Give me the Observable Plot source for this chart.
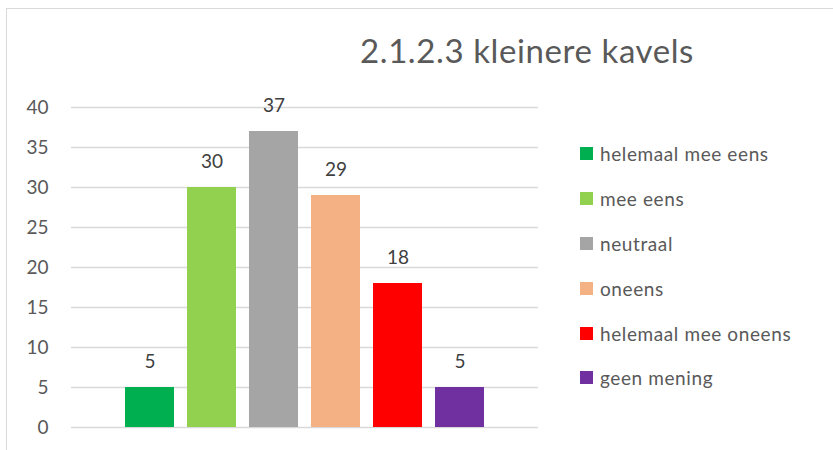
<!DOCTYPE html>
<html>
<head>
<meta charset="utf-8">
<script src="https://cdn.jsdelivr.net/npm/d3@7"></script>
<script src="https://cdn.jsdelivr.net/npm/@observablehq/plot@0.6"></script>
<style>
  html, body { margin: 0; padding: 0; background: #fff; overflow: hidden; }
  #wrap { position: relative; width: 833px; height: 450px; overflow: hidden; font-family: Lato, "Open Sans", sans-serif; }
  #frame { position: absolute; left: 6px; top: 8px; width: 900px; height: 500px; border: 1px solid #d9d9d9; box-sizing: border-box; }
  #title { position: absolute; left: 527px; top: 60px; transform: translate(-50%, -80%); font-size: 33px; line-height: 1; color: #595959; white-space: nowrap; font-weight: 400; letter-spacing: 0.6px; }
  #chart { position: absolute; left: 0; top: 0; }
  #legend { position: absolute; left: 580px; top: 131.6px; }
  #legend, #legend div, #legend span { font-family: Lato, "Open Sans", sans-serif !important; font-size: 19px !important; color: #595959 !important; letter-spacing: 0.6px; }
  #legend > div { margin: 0 !important; }
  #legend .lg-swatch { height: 44.8px !important; padding: 0 !important; margin: 0 !important; display: flex !important; align-items: center !important; }
  #legend .lg-swatch > svg { margin-right: 7px !important; flex-shrink: 0; }
</style>
</head>
<body>
<div id="wrap">
  <div id="frame"></div>
  <div id="chart"></div>
  <div id="title"></div>
  <div id="legend"></div>
</div>
<script>
const titleText = "2.1.2.3 kleinere kavels";
const categories = ["helemaal mee eens", "mee eens", "neutraal", "oneens", "helemaal mee oneens", "geen mening"];
const values = [5, 30, 37, 29, 18, 5];
const colors = ["#00B050", "#92D050", "#A5A5A5", "#F4B183", "#FF0000", "#7030A0"];
const yTicks = [0, 5, 10, 15, 20, 25, 30, 35, 40];

const data = categories.map((c, i) => ({category: c, value: values[i]}));
document.getElementById("title").textContent = titleText;

const chart = Plot.plot({
  width: 833,
  height: 450,
  marginLeft: 71,
  marginRight: 295,
  marginTop: 107,
  marginBottom: 23,
  style: {fontFamily: "Lato, 'Open Sans', sans-serif", fontSize: "19px", color: "#595959", background: "transparent"},
  x: {domain: categories, paddingInner: 0.21, paddingOuter: 0.85, axis: null},
  y: {domain: [0, 40], ticks: yTicks},
  color: {domain: categories, range: colors},
  marks: [
    Plot.ruleY(yTicks, {stroke: "#d9d9d9", strokeWidth: 1.5}),
    Plot.axisY({ticks: yTicks, tickSize: 0, tickPadding: 23, label: null, fontSize: 19, fill: "#595959"}),
    Plot.barY(data, {x: "category", y: "value", fill: "category"}),
    Plot.text(data, {x: "category", y: "value", text: d => String(d.value), dy: -26, lineAnchor: "middle", fontSize: 19, fill: "#404040"})
  ]
});
document.getElementById("chart").appendChild(chart);

const legend = Plot.legend({
  color: {domain: categories, range: colors},
  columns: 1,
  swatchSize: 13,
  className: "lg"
});
document.getElementById("legend").appendChild(legend);
</script>
</body>
</html>
